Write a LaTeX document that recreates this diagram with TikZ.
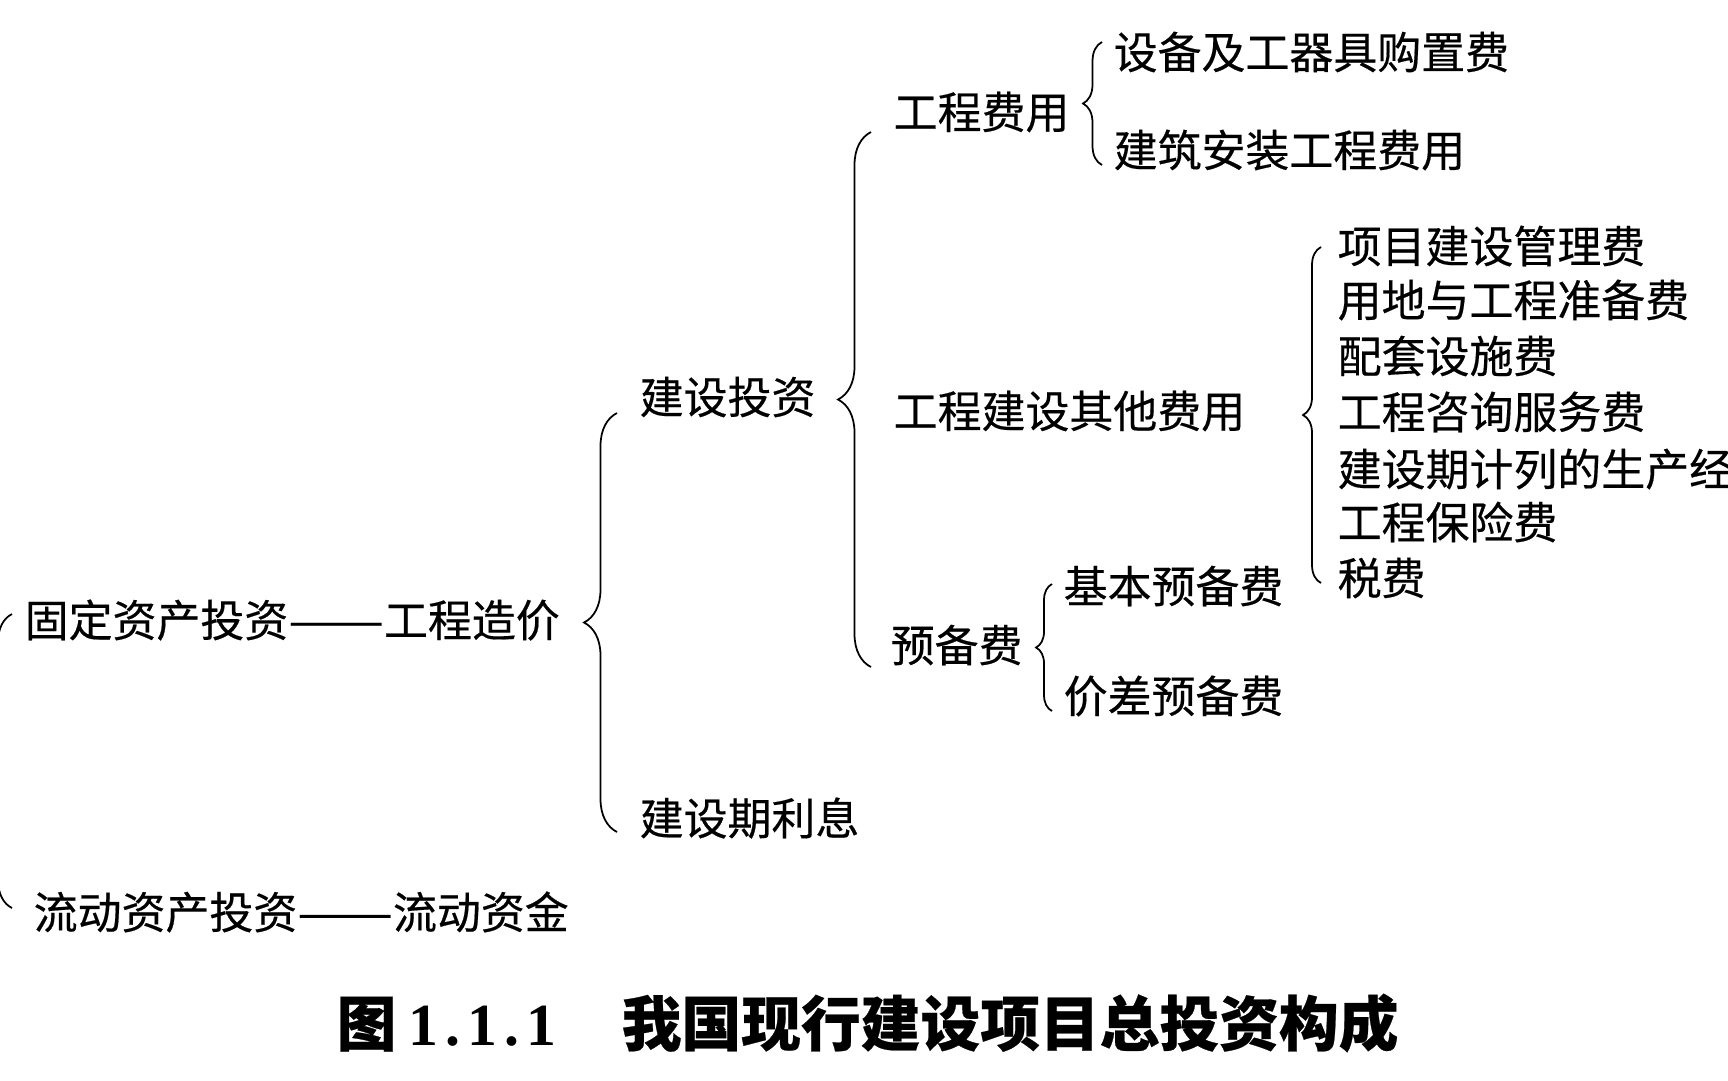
\documentclass[tikz,border=0pt]{standalone}
\usepackage{fontspec}
\usepackage{graphicx}
\newfontfamily\cjk[FakeBold=0.4]{Noto Sans CJK SC}
\newfontfamily\capnum{Liberation Serif}
\usetikzlibrary{decorations.pathreplacing}

\begin{document}
\begin{tikzpicture}[x=0.1mm, y=-0.1mm]
		\tikzstyle{every node}=[inner sep=0pt, anchor=west, font=\cjk\fontsize{12.5}{15}\selectfont]
		\tikzstyle{brace}=[decorate, line width=0.5pt]
		\useasboundingbox (0,0) rectangle (1728,1080);
		% first level
		\node (fixed) at (24, 620) {固定资产投资\scalebox{1.3}[1]{——}工程造价};
		\node (liquid) at (33, 912) {流动资产投资\scalebox{1.3}[1]{——}流动资金};
		% second level
		\node (jsz) at (639, 397) {建设投资};
		\node (lixi) at (639, 818) {建设期利息};
		% third level
		\node (gcfy) at (893, 112) {工程费用};
		\node (qita) at (893, 411) {工程建设其他费用};
		\node (ybf) at (890, 645) {预备费};
		% fourth level
		\node (sb) at (1113, 52) {设备及工器具购置费};
		\node (jz) at (1113, 150) {建筑安装工程费用};
		\node (i1) at (1337, 246) {项目建设管理费};
		\node (i2) at (1337, 300) {用地与工程准备费};
		\node (i3) at (1337, 356) {配套设施费};
		\node (i4) at (1337, 412) {工程咨询服务费};
		\node (i5) at (1337, 469) {建设期计列的生产经营费};
		\node (i6) at (1337, 522) {工程保险费};
		\node (i7) at (1337, 578) {税费};
		\node (jb) at (1063, 586) {基本预备费};
		\node (jc) at (1063, 696) {价差预备费};
		% caption
		\node (cap) at (336, 1023) {\bfseries\fontsize{17}{20}\selectfont 图\hspace{0.2em}{\capnum\bfseries 1\kern2pt.\kern2pt1\kern2pt.\kern2pt1}\hspace{1.1em}我国现行建设项目总投资构成};
		% braces
		\draw [brace, decoration={brace, amplitude=2.8mm}] ([xshift=-2.1mm, yshift=0.4mm]liquid.west) -- ([xshift=-1.2mm, yshift=0.6mm]fixed.west);
		\draw [brace, decoration={brace, amplitude=3.3mm}] ([xshift=-2.2mm, yshift=-1.4mm]lixi.west) -- ([xshift=-2.2mm, yshift=-1.6mm]jsz.west);
		\draw [brace, decoration={brace, amplitude=3.3mm}] ([xshift=-1.9mm, yshift=-2.2mm]ybf.west) -- ([xshift=-2.2mm, yshift=-2mm]gcfy.west);
		\draw [brace, decoration={brace, amplitude=1.9mm}] ([xshift=-1.1mm, yshift=-1.5mm]jz.west) -- ([xshift=-1.1mm, yshift=1mm]sb.west);
		\draw [brace, decoration={brace, amplitude=1.8mm}] ([xshift=-1.6mm, yshift=-0.5mm]i7.west) -- ([xshift=-1.6mm, yshift=-0.1mm]i1.west);
		\draw [brace, decoration={brace, amplitude=1.6mm}] ([xshift=-1.1mm, yshift=-1.5mm]jc.west) -- ([xshift=-1.1mm, yshift=0.2mm]jb.west);
\end{tikzpicture}
\end{document}
